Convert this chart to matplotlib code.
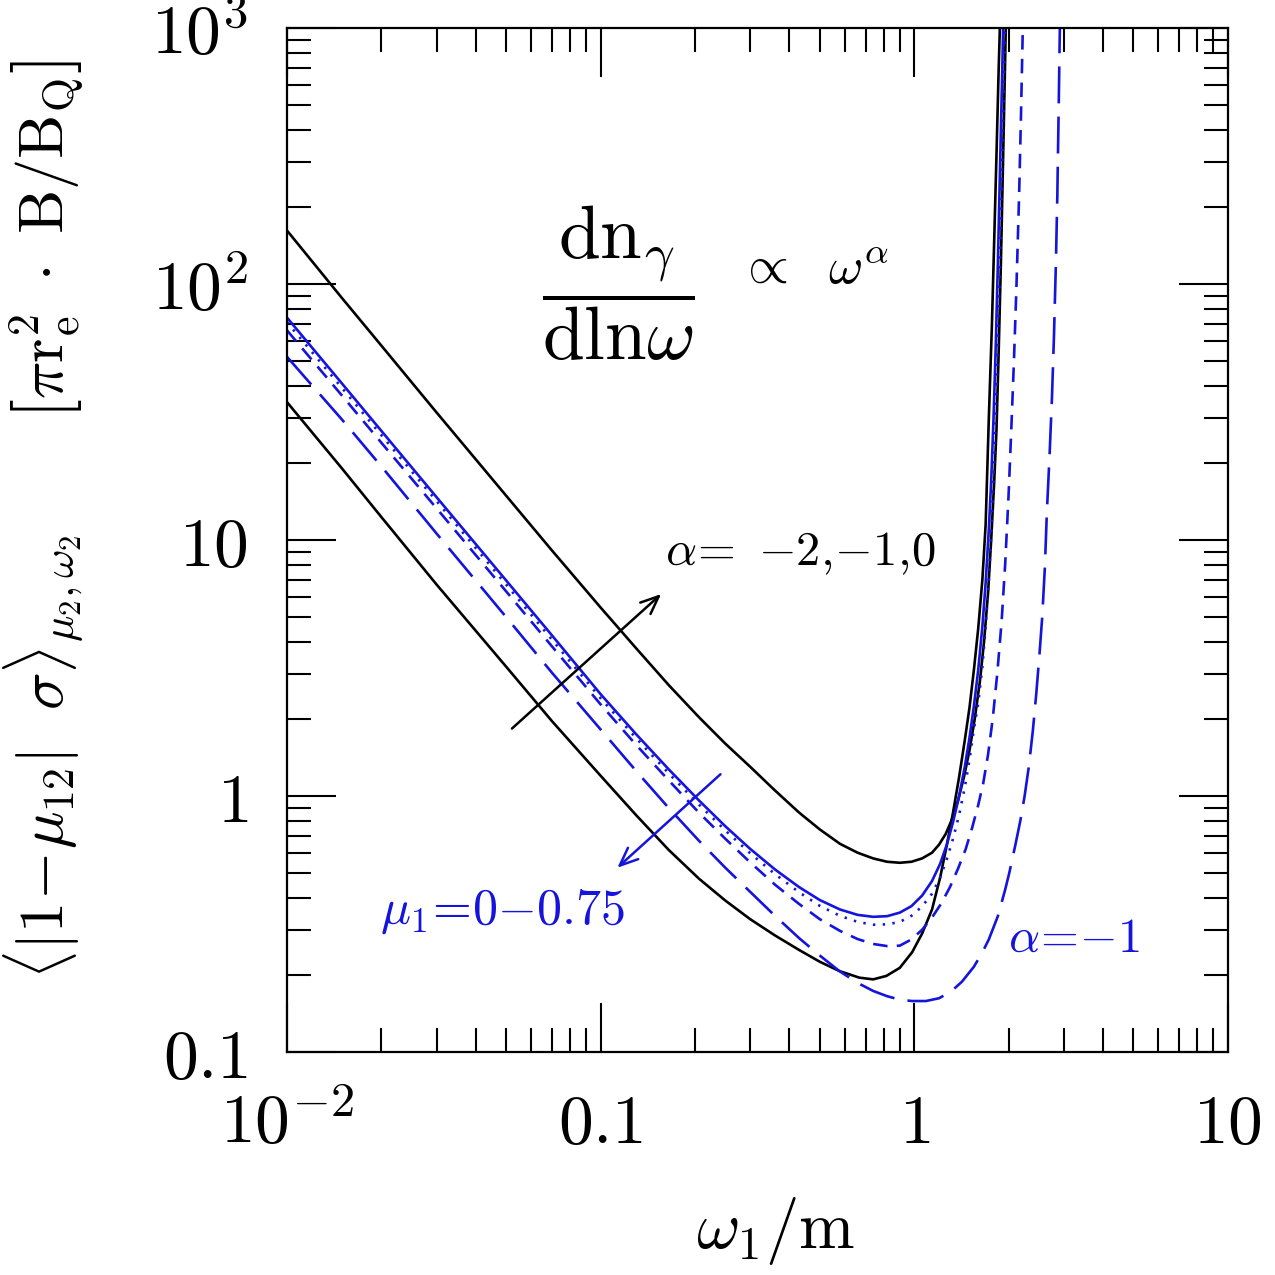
import numpy as np
import matplotlib
matplotlib.use('Agg')
import matplotlib.pyplot as plt
from matplotlib.ticker import FixedLocator, FixedFormatter, LogLocator, NullFormatter

plt.rcParams['mathtext.fontset'] = 'cm'
plt.rcParams['font.family'] = 'serif'
plt.rcParams['font.serif'] = ['DejaVu Serif']

# black solid, alpha = 0 (upper curve)
x_a0 = [0.01, 0.015, 0.02, 0.03, 0.05, 0.07, 0.1, 0.13, 0.165, 0.206, 0.25, 0.3,
        0.36, 0.43, 0.5, 0.58, 0.66, 0.74, 0.82, 0.9, 0.98, 1.06, 1.14, 1.2, 1.26,
        1.32, 1.38, 1.44, 1.5, 1.56, 1.62, 1.67, 1.72, 1.76, 1.8, 1.83, 1.86,
        1.89, 1.92, 1.95, 1.97]
y_a0 = [162, 88, 57.5, 31.5, 14.9, 9.1, 5.45, 3.77, 2.71, 2.03, 1.6, 1.3,
        1.05, 0.86, 0.74, 0.65, 0.6, 0.57, 0.553, 0.548, 0.553, 0.57, 0.6, 0.645,
        0.71, 0.81, 0.96, 1.18, 1.5, 2.0, 2.8, 4.0, 6.2, 10, 17, 27, 55,
        120, 300, 750, 1400]

# black solid, alpha = -2 (lower curve)
x_am2 = [0.01, 0.015, 0.02, 0.03, 0.05, 0.07, 0.1, 0.13, 0.165, 0.206, 0.25, 0.3,
         0.36, 0.43, 0.5, 0.577, 0.668, 0.74, 0.815, 0.9, 0.985, 1.06, 1.14, 1.21,
         1.27, 1.33, 1.39, 1.45, 1.5, 1.55, 1.6, 1.65, 1.69, 1.73, 1.77, 1.8,
         1.83, 1.86, 1.88]
y_am2 = [34.6, 19.0, 12.3, 6.7, 3.2, 1.96, 1.2, 0.84, 0.615, 0.475, 0.39, 0.33,
         0.285, 0.25, 0.225, 0.207, 0.195, 0.192, 0.198, 0.213, 0.245, 0.29, 0.36,
         0.48, 0.64, 0.86, 1.18, 1.65, 2.2, 3.1, 4.5, 7.0, 11.5, 30, 70, 150,
         320, 700, 1100]

# blue, alpha = -1, mu1 = 0 (solid)
x_mu0 = [0.01, 0.015, 0.02, 0.03, 0.05, 0.07, 0.1, 0.13, 0.165, 0.206, 0.25, 0.3,
         0.36, 0.43, 0.5, 0.58, 0.66, 0.74, 0.82, 0.9, 0.98, 1.06, 1.14, 1.21,
         1.27, 1.33, 1.39, 1.45, 1.5, 1.55, 1.6, 1.65, 1.69, 1.73, 1.76, 1.79,
         1.82, 1.85, 1.88, 1.91, 1.93]
y_mu0 = [74, 40.8, 26.7, 14.7, 6.95, 4.24, 2.5, 1.74, 1.27, 0.96, 0.761, 0.621,
         0.516, 0.44, 0.392, 0.36, 0.343, 0.337, 0.339, 0.35, 0.371, 0.408, 0.465,
         0.543, 0.644, 0.789, 0.996, 1.3, 1.68, 2.24, 3.1, 4.6, 6.8, 11, 17, 29.5,
         57, 125, 300, 700, 1300]

# blue, alpha = -1, mu1 = 0.25 (dotted)
x_mu25 = [0.01, 0.015, 0.02, 0.03, 0.05, 0.07, 0.1, 0.13, 0.165, 0.206, 0.25, 0.3,
          0.36, 0.43, 0.5, 0.58, 0.66, 0.74, 0.82, 0.9, 0.98, 1.06, 1.14, 1.21,
          1.27, 1.33, 1.39, 1.45, 1.5, 1.55, 1.6, 1.65, 1.69, 1.73, 1.76, 1.79,
          1.82, 1.85, 1.88, 1.91, 1.94, 1.96]
y_mu25 = [71, 39.2, 25.7, 14.2, 6.7, 4.08, 2.41, 1.68, 1.225, 0.925, 0.733, 0.597,
          0.495, 0.42, 0.372, 0.34, 0.322, 0.314, 0.315, 0.322, 0.34, 0.37, 0.415,
          0.48, 0.565, 0.68, 0.84, 1.08, 1.38, 1.82, 2.3, 3.2, 4.6, 7.0, 10.5, 17,
          30, 60, 130, 300, 750, 1400]

# blue, alpha = -1, mu1 = 0.5 (short dash)
x_mu50 = [0.01, 0.015, 0.02, 0.03, 0.05, 0.07, 0.1, 0.13, 0.165, 0.206, 0.25, 0.3,
          0.36, 0.43, 0.5, 0.58, 0.66, 0.74, 0.82, 0.9, 0.98, 1.06, 1.14, 1.22,
          1.3, 1.38, 1.46, 1.53, 1.6, 1.66, 1.72, 1.78, 1.84, 1.9, 1.95, 2.0,
          2.04, 2.08, 2.12, 2.16, 2.19, 2.22, 2.24]
y_mu50 = [66, 36.6, 24, 13.3, 6.3, 3.84, 2.28, 1.58, 1.15, 0.86, 0.68, 0.55,
          0.45, 0.378, 0.33, 0.297, 0.276, 0.264, 0.259, 0.26, 0.275, 0.3, 0.335,
          0.38, 0.44, 0.52, 0.62, 0.75, 0.92, 1.12, 1.45, 2.0, 3.0, 4.8, 8.0, 15,
          27, 50, 100, 220, 450, 1000, 1500]

# blue, alpha = -1, mu1 = 0.75 (long dash)
x_mu75 = [0.01, 0.015, 0.02, 0.03, 0.05, 0.07, 0.1, 0.13, 0.165, 0.206, 0.25, 0.3,
          0.36, 0.43, 0.5, 0.577, 0.66, 0.74, 0.82, 0.9, 0.985, 1.09, 1.2, 1.31,
          1.42, 1.55, 1.65, 1.73, 1.85, 1.95, 2.01, 2.1, 2.18, 2.25, 2.32, 2.39,
          2.45, 2.51, 2.56, 2.61, 2.65, 2.7, 2.75, 2.79, 2.83, 2.86, 2.89, 2.91,
          2.93]
y_mu75 = [52, 29.5, 19.4, 10.6, 5.0, 3.03, 1.82, 1.25, 0.897, 0.668, 0.524, 0.422,
          0.34, 0.278, 0.238, 0.207, 0.186, 0.173, 0.165, 0.16, 0.158, 0.158, 0.162,
          0.172, 0.188, 0.215, 0.245, 0.275, 0.34, 0.43, 0.5, 0.64, 0.8, 1.0, 1.3,
          1.8, 2.5, 3.6, 5.0, 7.8, 13, 21, 36, 62, 120, 220, 500, 900, 1500]

x_ticks = [0.01, 0.1, 1, 10]
x_ticklabels = [r'$10^{-2}$', r'$0.1$', r'$1$', r'$10$']
y_ticks = [0.1, 1, 10, 100, 1000]
y_ticklabels = [r'$0.1$', r'$1$', r'$10$', r'$10^2$', r'$10^3$']

blue = '#1414dc'
lw = 1.9

fig = plt.figure(figsize=(12.75, 12.75), dpi=100)
ax = fig.add_axes([0.225, 0.175, 0.738, 0.803])

ax.plot(x_a0, y_a0, color='black', lw=lw)
ax.plot(x_am2, y_am2, color='black', lw=lw)
ax.plot(x_mu0, y_mu0, color=blue, lw=lw)
ax.plot(x_mu25, y_mu25, color=blue, lw=lw, dashes=(0.9, 2.8))
ax.plot(x_mu50, y_mu50, color=blue, lw=lw, dashes=(5.5, 3.5))
ax.plot(x_mu75, y_mu75, color=blue, lw=lw, dashes=(14, 5))

ax.set_xscale('log')
ax.set_yscale('log')
ax.set_xlim(0.01, 10)
ax.set_ylim(0.1, 1000)

ax.xaxis.set_major_locator(FixedLocator(x_ticks))
ax.xaxis.set_major_formatter(FixedFormatter(x_ticklabels))
ax.yaxis.set_major_locator(FixedLocator(y_ticks))
ax.yaxis.set_major_formatter(FixedFormatter(y_ticklabels))
for axis in (ax.xaxis, ax.yaxis):
    axis.set_minor_locator(LogLocator(base=10, subs=np.arange(2, 10)))
    axis.set_minor_formatter(NullFormatter())

ax.tick_params(which='both', direction='in', top=True, right=True,
               width=1.5, labelsize=50, pad=28, colors='black')
ax.tick_params(which='major', length=35)
ax.tick_params(which='minor', length=17)
for s in ax.spines.values():
    s.set_linewidth(1.6)

ax.set_xlabel(r'$\omega_1/\mathrm{m}$', fontsize=48)
ax.xaxis.set_label_coords(0.519, -0.14)
ax.set_ylabel(r'$\langle|1\!-\!\mu_{12}|\ \ \sigma\rangle_{\mu_2,\omega_2}\ \ \ \ \ \ '
              r'\left[\pi\mathrm{r}_\mathrm{e}^2\ \cdot\ \mathrm{B}/\mathrm{B}_\mathrm{Q}\right]$',
              fontsize=45)
ax.yaxis.set_label_coords(-0.215, 0.52)

tr = ax.transAxes
ax.text(0.352, 0.751, r'$\dfrac{\mathrm{dn}_\gamma}{\mathrm{dln}\omega}$',
        fontsize=54, ha='center', va='center', transform=tr)
ax.text(0.479, 0.764, r'$\propto\ \ \omega^\alpha$', fontsize=38,
        ha='left', va='center', transform=tr)
ax.text(0.402, 0.487, r'$\alpha\!=\ {-}2,\!{-}1,\!0$', fontsize=35,
        ha='left', va='center', transform=tr)
ax.annotate('', xy=(0.400, 0.449), xytext=(0.237, 0.314), xycoords=tr,
            textcoords=tr,
            arrowprops=dict(arrowstyle='->,head_length=1.3,head_width=0.55',
                            color='black', lw=1.8))
ax.annotate('', xy=(0.349, 0.178), xytext=(0.463, 0.273), xycoords=tr,
            textcoords=tr,
            arrowprops=dict(arrowstyle='->,head_length=1.3,head_width=0.55',
                            color=blue, lw=1.8))
ax.text(0.099, 0.137, r'$\mu_1\!=\!0{-}0.75$', fontsize=36, ha='left',
        va='center', color=blue, transform=tr)
ax.text(0.766, 0.111, r'$\alpha\!=\!{-}1$', fontsize=35, ha='left',
        va='center', color=blue, transform=tr)

fig.savefig('out.png', dpi=100)
